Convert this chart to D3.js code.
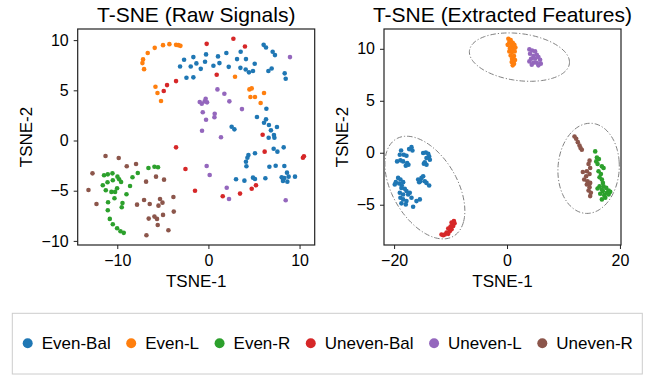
<!DOCTYPE html>
<html>
<head>
<meta charset="utf-8">
<script src="https://cdn.jsdelivr.net/npm/d3@7"></script>
<style>
body { margin: 0; background: #fff; }
text { font-family: "Liberation Sans", Arial, sans-serif; fill: #000; }
</style>
</head>
<body>
<div id="chart"></div>
<script>
const classes = ["Even-Bal", "Even-L", "Even-R", "Uneven-Bal", "Uneven-L", "Uneven-R"];
const colors = ["#1f77b4", "#ff7f0e", "#2ca02c", "#d62728", "#9467bd", "#8c564b"];

// T-SNE of raw signals, [tsne1, tsne2]
const rawEvenBal = [[-2.67,8.04],[-1.65,8.31],[-3.11,7.38],[-1.94,7.38],[-1.32,7.68],[-2.41,6.25],[-1.65,6.29],[-0.84,7.14],
  [-0.26,8.58],[-0.37,7.84],[1.05,8.38],[0.55,7.44],[1.21,7.71],[1.97,8.71],[2.23,7.34],[3.14,8.11],[3.54,8.84],[4.12,8.11],
  [5.08,7.64],[3.51,7.24],[4.09,7.08],[4.45,6.79],[4.89,6.92],[6.06,9.53],[6.32,9.27],[7.05,8.84],[7.30,8.51],[6.58,6.92],
  [6.94,7.18],[8.37,6.69],[8.48,6.15],[6.36,3.16],[5.33,2.34],[6.32,2.11],[6.10,1.77],[6.64,1.54],[7.52,1.34],[6.86,1.01],
  [7.19,0.55],[2.55,1.37],[2.85,1.11],[6.61,0.28],[7.24,0.28],[7.16,-0.82],[7.57,-1.11],[8.26,-0.68],[5.11,-1.27],[4.39,-1.44],
  [4.28,-1.71],[4.12,-2.11],[4.17,-2.57],[6.69,-2.61],[7.38,-2.51],[8.33,-2.54],[8.62,-3.20],[8.80,-3.60],[8.33,-3.73],
  [8.18,-3.83],[8.18,-4.03],[8.66,-4.10],[9.50,-3.60],[6.25,-3.76],[4.89,-3.70],[5.11,-3.83],[3.95,-4.0],[3.03,-3.86],[8.04,-3.66]];
const rawEvenL = [[-6.66,8.71],[-5.89,9.23],[-4.98,9.50],[-4.28,9.60],[-3.55,9.53],[-3.29,9.50],[-3.07,9.43],[-7.17,8.08],
  [-7.24,7.71],[-7.06,7.11],[-5.81,5.35],[-5.59,4.73],[-5.20,3.93],[2.92,6.35],[4.50,5.09],[4.75,5.19],[4.61,4.33],[5.11,4.33],
  [6.10,4.73],[5.73,3.73]];
const rawEvenR = [[-11.45,-3.46],[-11.04,-3.37],[-10.53,-3.27],[-9.98,-3.60],[-10.49,-3.96],[-9.80,-3.86],[-9.58,-4.13],
  [-11.59,-4.46],[-11.07,-4.16],[-11.26,-4.96],[-10.64,-5.12],[-10.24,-5.12],[-10.02,-4.76],[-10.31,-5.75],[-11.01,-6.15],
  [-9.43,-6.22],[-9.51,-6.65],[-11.04,-6.95],[-10.82,-7.81],[-10.49,-8.34],[-10.02,-8.74],[-9.65,-9.04],[-9.29,-9.20],
  [-8.99,-5.35],[-8.60,-4.53],[-8.33,-3.66],[-7.75,-3.23],[-6.58,-2.74],[-5.92,-2.61],[-5.53,-2.67]];
const rawUnevenBal = [[-4.54,5.52],[-4.90,4.93],[-3.55,5.92],[-0.19,9.63],[2.74,10.13],[4.01,9.37],[0.91,6.55],[5.95,0.58],
  [-3.55,-0.68],[-2.52,-2.84],[-1.47,-5.0],[6.17,-1.11],[10.37,-1.71],[10.48,-1.57],[1.57,-5.55],[3.47,-5.29],[4.75,-4.80],[5.22,-4.46]];
const rawUnevenL = [[8.95,8.31],[0.99,5.09],[1.75,4.66],[2.30,3.90],[-0.95,3.83],[-0.73,3.66],[-0.41,3.90],[-0.30,4.16],
  [-0.15,3.80],[-0.62,2.81],[0.69,2.67],[0.66,2.31],[3.68,3.13],[-0.26,2.07],[-0.70,0.98],[1.38,0.32],[-0.19,-2.54],
  [0.14,-3.43],[2.01,-4.70],[2.26,-5.82],[8.48,-5.95]];
const rawUnevenR = [[-11.29,-1.54],[-9.84,-1.74],[-8.96,-2.57],[-7.94,-2.34],[-12.72,-3.27],[-13.16,-4.93],[-12.28,-6.32],
  [-6.84,-4.10],[-5.75,-3.60],[-4.87,-3.90],[-3.84,-5.62],[-5.31,-5.82],[-5.04,-6.19],[-5.48,-6.49],[-7.83,-6.39],
  [-7.06,-5.92],[-6.44,-6.32],[-3.80,-7.08],[-4.98,-7.41],[-5.92,-7.58],[-5.64,-7.81],[-6.55,-7.78],[-5.56,-8.41],
  [-4.39,-8.94],[-6.80,-9.43]];

// T-SNE of extracted features
const featEvenBal = [[-16.92,0.54],[-17.34,0.35],[-16.75,0.22],[-18.76,0.22],[-18.28,-0.19],[-18.99,-0.19],[-17.81,-0.29],
  [-19.47,-0.83],[-18.88,-0.73],[-18.40,-0.83],[-17.69,-0.99],[-17.93,-1.24],[-17.46,-1.15],[-14.85,-0.03],[-14.38,0.03],
  [-13.96,-0.10],[-13.79,-0.35],[-14.26,-0.51],[-14.56,-0.92],[-14.26,-1.15],[-14.73,-1.05],[-13.67,-0.67],[-19.29,-2.42],
  [-18.88,-2.58],[-19.70,-2.83],[-19.11,-2.96],[-18.40,-2.83],[-19.88,-3.06],[-18.64,-3.15],[-15.74,-2.58],[-15.15,-2.42],
  [-14.85,-2.26],[-15.33,-2.74],[-14.56,-2.74],[-14.26,-2.90],[-13.79,-3.15],[-15.56,-2.83],[-18.70,-3.38],[-18.11,-3.47],
  [-17.81,-3.69],[-18.99,-3.85],[-18.40,-4.01],[-17.51,-4.01],[-16.92,-4.33],[-18.88,-4.33],[-18.40,-4.49],[-17.81,-4.65],
  [-18.70,-4.87],[-17.93,-4.97],[-16.63,-5.19],[-16.04,-4.65],[-15.44,-4.49],[-17.22,-3.85]];
const featEvenL = [[0.24,10.96],[0.65,10.83],[0.41,10.64],[1.01,10.57],[0.12,10.38],[0.83,10.32],[1.30,10.38],[0.53,10.06],
  [1.12,10.0],[1.48,10.13],[0.41,9.75],[0.89,9.68],[1.36,9.75],[0.65,9.36],[1.24,9.30],[0.89,9.04],[1.42,8.92],[0.83,8.73],
  [1.24,8.57],[1.01,8.41]];
const featEvenR = [[15.62,0.13],[15.92,-0.45],[16.27,-0.61],[15.80,-0.83],[16.04,-1.08],[16.80,-1.31],[17.10,-1.46],
  [16.21,-1.78],[16.63,-2.04],[16.39,-2.36],[16.80,-2.58],[16.98,-2.90],[16.39,-3.22],[17.10,-3.22],[17.57,-3.38],
  [17.99,-3.63],[17.69,-3.85],[16.98,-3.69],[16.51,-3.95],[17.22,-4.08],[17.99,-4.01],[18.28,-3.76],[16.80,-3.53],
  [16.04,-3.44],[17.40,-4.33],[16.80,-4.49]];
const featUnevenBal = [[-11.60,-7.87],[-11.30,-7.93],[-11.01,-7.87],[-10.71,-7.68],[-10.41,-7.80],[-10.12,-7.52],
  [-10.41,-7.29],[-9.82,-7.36],[-10.00,-7.10],[-9.53,-7.04],[-9.64,-6.88],[-9.29,-6.78],[-9.82,-6.72],[-9.41,-6.56]];
const featUnevenL = [[3.96,9.94],[4.44,9.84],[4.97,9.75],[4.08,9.52],[5.27,9.43],[4.67,9.30],[5.56,9.20],[4.26,9.04],
  [4.97,9.04],[5.86,8.95],[3.96,8.79],[4.67,8.66],[5.27,8.66],[5.98,8.57],[4.38,8.47],[5.56,8.41]];
const featUnevenR = [[11.95,1.56],[12.25,1.34],[12.54,1.02],[12.84,0.70],[13.02,0.45],[13.25,0.29],[14.62,-0.76],
  [14.44,-1.08],[14.73,-1.46],[14.14,-1.78],[13.43,-1.85],[14.62,-2.04],[14.02,-2.26],[13.67,-2.58],[14.26,-2.74],
  [14.73,-2.90],[14.14,-3.06],[14.62,-3.31],[14.44,-3.63],[14.85,-3.85],[14.73,-4.17]];

const rawSets = [rawEvenBal, rawEvenL, rawEvenR, rawUnevenBal, rawUnevenL, rawUnevenR];
const featSets = [featEvenBal, featEvenL, featEvenR, featUnevenBal, featUnevenL, featUnevenR];

const rawXTicks = [-10, 0, 10];
const rawYTicks = [-10, -5, 0, 5, 10];
const featXTicks = [-20, 0, 20];
const featYTicks = [-5, 0, 5, 10];

// cluster ellipses (data units): center, semi-axes, angle in degrees
const ellipseCenters = [[2.2, 9.2], [-14.55, -3.35], [14.45, -1.5]];
const ellipseRadii = [[8.88, 2.27], [7.6, 4.1], [5.45, 4.32]];
const ellipseAngles = [-3.4, -25.5, 6.6];

const svg = d3.select("#chart")
    .append("svg")
    .attr("width", 660)
    .attr("height", 377);

svg.append("rect").attr("width", 660).attr("height", 377).attr("fill", "#fff");

function drawPanel(sets, left, title, xTicks, yTicks, yLabelX) {
    const all = sets.flat();
    const xe = d3.extent(all, d => d[0]);
    const ye = d3.extent(all, d => d[1]);
    const mx = (xe[1] - xe[0]) * 0.05, my = (ye[1] - ye[0]) * 0.05;

    const top = 29, bottom = 245, w = 237;
    const x = d3.scaleLinear().domain([xe[0] - mx, xe[1] + mx]).range([left, left + w]);
    const y = d3.scaleLinear().domain([ye[0] - my, ye[1] + my]).range([bottom, top]);

    const g = svg.append("g");

    sets.forEach((pts, i) => {
        g.selectAll(null)
            .data(pts)
            .enter()
            .append("circle")
            .attr("cx", d => x(d[0]))
            .attr("cy", d => y(d[1]))
            .attr("r", 2.3)
            .attr("fill", colors[i]);
    });

    g.append("rect")
        .attr("x", left).attr("y", top)
        .attr("width", w).attr("height", bottom - top)
        .attr("fill", "none").attr("stroke", "#222").attr("stroke-width", 1.2);

    const xAxis = g.append("g")
        .attr("transform", `translate(0,${bottom})`)
        .call(d3.axisBottom(x).tickValues(xTicks).tickFormat(d3.format("d")).tickSize(4).tickSizeOuter(0).tickPadding(6));
    const yAxis = g.append("g")
        .attr("transform", `translate(${left},0)`)
        .call(d3.axisLeft(y).tickValues(yTicks).tickFormat(d3.format("d")).tickSize(4).tickSizeOuter(0).tickPadding(5));
    [xAxis, yAxis].forEach(a => {
        a.select(".domain").remove();
        a.selectAll("line").attr("stroke", "#222");
        a.selectAll("text").style("font-size", "16px").attr("font-family", null);
    });

    g.append("text")
        .attr("x", left + w / 2).attr("y", 22)
        .attr("text-anchor", "middle")
        .style("font-size", "21px")
        .text(title);

    g.append("text")
        .attr("x", left + w / 2).attr("y", 286.5)
        .attr("text-anchor", "middle")
        .style("font-size", "17px")
        .text("TSNE-1");

    g.append("text")
        .attr("transform", `translate(${yLabelX},${(top + bottom) / 2}) rotate(-90)`)
        .attr("text-anchor", "middle")
        .style("font-size", "17px")
        .text("TSNE-2");

    return {x, y, g};
}

drawPanel(rawSets, 77.7, "T-SNE (Raw Signals)", rawXTicks, rawYTicks, 31.7);
const feat = drawPanel(featSets, 384, "T-SNE (Extracted Features)", featXTicks, featYTicks, 348.3);

// ellipses around the feature clusters
const line = d3.line().x(d => feat.x(d[0])).y(d => feat.y(d[1]));
ellipseCenters.forEach((c, i) => {
    const a = ellipseRadii[i][0], b = ellipseRadii[i][1];
    const t = ellipseAngles[i] * Math.PI / 180;
    const pts = d3.range(0, 361, 3).map(deg => {
        const p = deg * Math.PI / 180;
        return [c[0] + a * Math.cos(p) * Math.cos(t) - b * Math.sin(p) * Math.sin(t),
                c[1] + a * Math.cos(p) * Math.sin(t) + b * Math.sin(p) * Math.cos(t)];
    });
    feat.g.append("path")
        .attr("d", line(pts))
        .attr("fill", "none")
        .attr("stroke", "#808080")
        .attr("stroke-width", 1)
        .attr("stroke-dasharray", "5.5,2,1.2,2");
});

// legend
const legend = svg.append("g");
legend.append("rect")
    .attr("x", 12.3).attr("y", 313.3)
    .attr("width", 630).attr("height", 60.7)
    .attr("fill", "#fff").attr("stroke", "#cccccc").attr("stroke-width", 1);

let lx = 27.7;
classes.forEach((name, i) => {
    legend.append("circle")
        .attr("cx", lx).attr("cy", 343.3).attr("r", 5)
        .attr("fill", colors[i]);
    const t = legend.append("text")
        .attr("x", lx + 14).attr("y", 349.3)
        .style("font-size", "17px")
        .text(name);
    lx += 14 + t.node().getComputedTextLength() + 20.5;
});
</script>
</body>
</html>
